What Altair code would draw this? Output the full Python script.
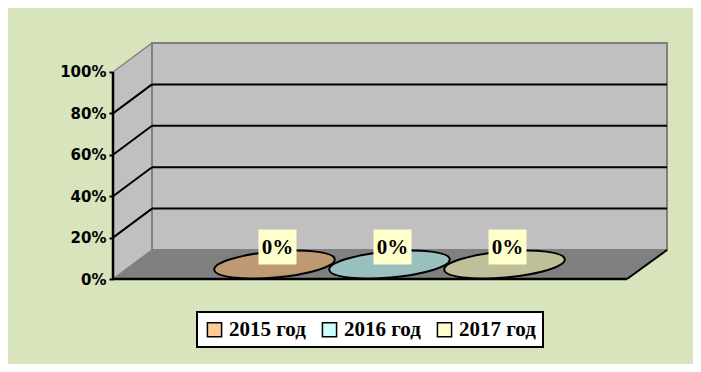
import altair as alt
import pandas as pd

# ---- data ----
SERIES = ["2015 год", "2016 год", "2017 год"]
VALUES = [0, 0, 0]
LEGEND_COLORS = ["#FFCC99", "#CCFFFF", "#FFFFCC"]
BODY_COLORS = ["#BF9973", "#99BFBF", "#BFBF99"]
Y_TICKS = [0, 20, 40, 60, 80, 100]

# ---- pseudo-3D geometry (plot units: x = px, y = percent) ----
W = 554          # full x extent (back-right corner)
FRONT_RIGHT = 514
DX = 39          # depth offset in x
DY = 14          # depth offset in y (percent units)
YMAX = 114
SPACING = 115
CENTER = (0 + FRONT_RIGHT) / 2 + DX / 2
LABEL_RISE = 8.5

xs = alt.Scale(domain=[0, W], nice=False, zero=False)
ys = alt.Scale(domain=[0, YMAX], nice=False, zero=False)

# series table
df = pd.DataFrame({"series": SERIES, "value": VALUES, "body": BODY_COLORS})
df["x"] = [CENTER + (i - 1) * SPACING for i in range(len(SERIES))]
df["yc"] = df["value"] + DY / 2
df["xl"] = df["x"] + 3
df["yl"] = df["yc"] + LABEL_RISE
df["label"] = [f"{v:.0f}%" for v in VALUES]

# walls
side = pd.DataFrame({"x": [0, DX], "lo": [0, DY], "hi": [100, 100 + DY]})
floor = pd.DataFrame({"x": [0, DX, FRONT_RIGHT, W], "lo": [0, 0, 0, DY], "hi": [0, DY, DY, DY]})
wall = pd.DataFrame({"x": [DX], "x2": [W], "y": [DY], "y2": [100 + DY]})

# rules (gridlines + edges)
rows = []
for v in Y_TICKS:
    edge = v in (0, 100)
    col = "#808080" if edge else "black"
    rows.append(dict(x=0, x2=DX, y=v, y2=v + DY, c=col, w=1.5 if edge else 2))
    if not edge:
        rows.append(dict(x=DX, x2=W, y=v + DY, y2=v + DY, c=col, w=2))
rows.append(dict(x=0, x2=0, y=0, y2=100, c="black", w=2.5))
rows.append(dict(x=0, x2=FRONT_RIGHT, y=0, y2=0, c="black", w=2.5))
rows.append(dict(x=FRONT_RIGHT, x2=W, y=0, y2=DY, c="black", w=2))
rules = pd.DataFrame(rows)

yaxis = alt.Axis(values=Y_TICKS, labelExpr="datum.value + '%'", domain=False, grid=False,
                 ticks=True, tickColor="black", tickWidth=2, tickSize=4, labelPadding=3,
                 labelFont="DejaVu Sans", labelFontWeight="bold", labelFontSize=15,
                 labelColor="black", title=None)

side_l = alt.Chart(side).mark_area(color="#C0C0C0").encode(
    x=alt.X("x:Q", scale=xs, axis=None), y=alt.Y("lo:Q", scale=ys, axis=yaxis), y2="hi:Q")
wall_l = alt.Chart(wall).mark_rect(color="#C0C0C0", stroke="#808080", strokeWidth=2).encode(
    x=alt.X("x:Q", scale=xs), x2="x2:Q", y=alt.Y("y:Q", scale=ys), y2="y2:Q")
floor_l = alt.Chart(floor).mark_area(color="#808080").encode(
    x=alt.X("x:Q", scale=xs), y=alt.Y("lo:Q", scale=ys), y2="hi:Q")
rule_l = alt.Chart(rules).mark_rule().encode(
    x=alt.X("x:Q", scale=xs), x2="x2:Q", y=alt.Y("y:Q", scale=ys), y2="y2:Q",
    color=alt.Color("c:N", scale=None), strokeWidth=alt.StrokeWidth("w:Q", scale=None))

legend_l = alt.Chart(df).mark_square(stroke="black", strokeWidth=1.5, size=200, opacity=1).encode(
    x=alt.X("x:Q", scale=xs), y=alt.Y("yc:Q", scale=ys),
    fill=alt.Fill("series:N", scale=alt.Scale(domain=SERIES, range=LEGEND_COLORS),
                  legend=alt.Legend(title=None, orient="none", legendX=84, legendY=269,
                                    direction="horizontal", fillColor="white", strokeColor="black",
                                    padding=7, labelFont="Liberation Serif", labelFontWeight="bold",
                                    labelFontSize=21, labelColor="black", symbolType="square",
                                    symbolSize=200, symbolStrokeColor="black", symbolStrokeWidth=1.5,
                                    labelOffset=4, columnPadding=13)))

ELLIPSE = "M -1 0 A 1 0.215 0 1 0 1 0 A 1 0.215 0 1 0 -1 0 Z"
ell_l = alt.Chart(df).mark_point(shape=ELLIPSE, size=14641, filled=True, stroke="black",
                                 strokeWidth=2, opacity=1, angle=355).encode(
    x=alt.X("x:Q", scale=xs), y=alt.Y("yc:Q", scale=ys),
    fill=alt.Fill("body:N", scale=None, legend=None))

BOX = "M -1 -0.92 L 1 -0.92 L 1 0.92 L -1 0.92 Z"
box_l = alt.Chart(df).mark_point(shape=BOX, size=1444, filled=True, color="#FFFFCC", opacity=1).encode(
    x=alt.X("xl:Q", scale=xs), y=alt.Y("yl:Q", scale=ys))
text_l = alt.Chart(df).mark_text(font="Liberation Serif", fontWeight="bold", fontSize=21,
                                 color="black", baseline="middle", align="center", dy=1).encode(
    x=alt.X("xl:Q", scale=xs), y=alt.Y("yl:Q", scale=ys), text="label:N")

chart = alt.layer(side_l, wall_l, floor_l, rule_l, legend_l, ell_l, box_l, text_l).properties(
    width=W, height=236, background="#D8E4BC",
    padding={"left": 105, "top": 35, "right": 26, "bottom": 85},
    autosize=alt.AutoSizeParams(type="none"),
).configure_view(stroke=None).configure_legend(strokeWidth=2)

chart.save("out.html", embed_options={"renderer": "svg", "actions": False})
